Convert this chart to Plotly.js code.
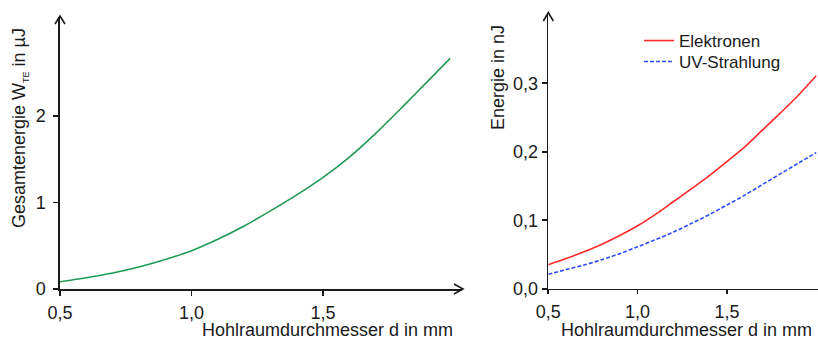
<!DOCTYPE html>
<html>
<head>
<meta charset="utf-8">
<script src="https://cdn.plot.ly/plotly-3.0.1.min.js"></script>
<style>html,body{margin:0;padding:0;background:#fff;}#chart{width:818px;height:340px;}</style>
</head>
<body>
<div id="chart"></div>
<script>
// ---- data ----
var dLeft = [0.5, 0.6, 0.7, 0.8, 0.9, 1.0, 1.1, 1.2, 1.3, 1.4, 1.5, 1.6, 1.7, 1.8, 1.9, 1.983];
var wTE   = [0.083, 0.131, 0.185, 0.254, 0.340, 0.443, 0.575, 0.728, 0.903, 1.088, 1.29, 1.525, 1.80, 2.10, 2.41, 2.667];

var dRight      = [0.5, 0.6, 0.7, 0.8, 0.9, 1.0, 1.1, 1.2, 1.3, 1.4, 1.5, 1.6, 1.7, 1.8, 1.9, 2.0];
var elektronen  = [0.035, 0.044, 0.054, 0.065, 0.0776, 0.0919, 0.1086, 0.127, 0.1457, 0.1647, 0.1857, 0.2072, 0.2319, 0.2568, 0.2826, 0.311];
var uvStrahlung = [0.021, 0.028, 0.0346, 0.0424, 0.0512, 0.0612, 0.0717, 0.0826, 0.0951, 0.108, 0.1222, 0.1366, 0.1523, 0.1679, 0.1833, 0.1988];

var xTickVals = [0.5, 1.0, 1.5];
var xTickText = ['0,5', '1,0', '1,5'];
var yLeftVals = [0, 1, 2];
var yLeftText = ['0', '1', '2'];
var yRightVals = [0, 0.1, 0.2, 0.3];
var yRightText = ['0,0', '0,1', '0,2', '0,3'];

// ---- layout helpers ----
var W = 818, H = 340;
function px(x){ return x / W; }
function py(y){ return 1 - y / H; }
var ink = '#1a1a1a';
var fam = 'Liberation Sans, Arial, sans-serif';
var fnt = {family: fam, size: 18, color: ink};

var traces = [
  {x: dLeft, y: wTE, xaxis: 'x', yaxis: 'y', mode: 'lines', line: {color: '#1f9a55', width: 1.6, shape: 'spline', smoothing: 0.8}, showlegend: false},
  {x: dRight, y: elektronen, xaxis: 'x2', yaxis: 'y2', mode: 'lines', name: 'Elektronen', legend: 'legend',
    line: {color: '#ff2a2a', width: 1.6, shape: 'spline', smoothing: 0.8}},
  {x: dRight, y: uvStrahlung, xaxis: 'x2', yaxis: 'y2', mode: 'lines', name: 'UV-Strahlung', legend: 'legend2',
    line: {color: '#2a4cff', width: 1.6, dash: '4px,2px', shape: 'spline', smoothing: 0.8}}
];

var axBase = {showgrid: false, zeroline: false, showline: true, linecolor: ink, linewidth: 1.6,
  tickcolor: ink, tickwidth: 1.6, tickfont: fnt, fixedrange: true};
var legBase = {xanchor: 'left', yanchor: 'middle', bgcolor: 'rgba(0,0,0,0)',
  font: {family: fam, size: 17, color: ink}, itemwidth: 30};

var layout = {
  width: W, height: H, margin: {l: 0, r: 0, t: 0, b: 0},
  paper_bgcolor: '#fff', plot_bgcolor: 'rgba(0,0,0,0)',
  font: fnt,
  xaxis: Object.assign({}, axBase, {domain: [px(60), px(462)], range: [0.5, 2.028], anchor: 'y',
    tickmode: 'array', tickvals: xTickVals, ticktext: xTickText, ticks: 'outside', ticklen: 5, ticklabelstandoff: 2}),
  yaxis: Object.assign({}, axBase, {domain: [py(289), py(17)], range: [0, 3.145], anchor: 'x',
    tickmode: 'array', tickvals: yLeftVals, ticktext: yLeftText, ticks: 'outside', ticklen: 5, ticklabelstandoff: 4}),
  xaxis3: {overlaying: 'x', anchor: 'y', side: 'bottom', range: [0.5, 2.028], showgrid: false, zeroline: false, showline: false,
    tickmode: 'array', tickvals: xTickVals, ticks: 'inside', ticklen: 5, tickwidth: 1.6, tickcolor: ink, showticklabels: false, fixedrange: true},
  yaxis3: {overlaying: 'y', anchor: 'x', side: 'left', range: [0, 3.145], showgrid: false, zeroline: false, showline: false,
    tickmode: 'array', tickvals: yLeftVals, ticks: 'inside', ticklen: 3, tickwidth: 1.6, tickcolor: ink, showticklabels: false, fixedrange: true},
  xaxis2: Object.assign({}, axBase, {domain: [px(548.3), 1], range: [0.5, 2.01], anchor: 'y2',
    tickmode: 'array', tickvals: xTickVals, ticktext: xTickText, ticks: 'outside', ticklen: 4, ticklabelstandoff: 2}),
  yaxis2: Object.assign({}, axBase, {domain: [py(288.7), py(13.3)], range: [0, 0.4022], anchor: 'x2',
    tickmode: 'array', tickvals: yRightVals, ticktext: yRightText, ticks: 'outside', ticklen: 5, ticklabelstandoff: 0}),
  xaxis4: {overlaying: 'x2', anchor: 'y2', side: 'bottom', range: [0.5, 2.01], showgrid: false, zeroline: false, showline: false,
    tickmode: 'array', tickvals: xTickVals, ticks: 'inside', ticklen: 5, tickwidth: 1.6, tickcolor: ink, showticklabels: false, fixedrange: true},
  legend: Object.assign({}, legBase, {x: px(639), y: py(41)}),
  legend2: Object.assign({}, legBase, {x: px(639), y: py(62)}),
  annotations: [
    {text: 'Gesamtenergie W<sub><span style="font-size:9px">TE</span></sub> in µJ', xref: 'paper', yref: 'paper', x: px(20), y: py(128), textangle: -90,
      showarrow: false, xanchor: 'center', yanchor: 'middle', font: fnt},
    {text: 'Hohlraumdurchmesser d in mm', xref: 'paper', yref: 'paper', x: px(455), y: py(330),
      showarrow: false, xanchor: 'right', yanchor: 'middle', font: fnt},
    {text: 'Energie in nJ', xref: 'paper', yref: 'paper', x: px(498), y: py(78), textangle: -90,
      showarrow: false, xanchor: 'center', yanchor: 'middle', font: fnt},
    {text: 'Hohlraumdurchmesser d in mm', xref: 'paper', yref: 'paper', x: px(814), y: py(330),
      showarrow: false, xanchor: 'right', yanchor: 'middle', font: fnt}
  ],
  shapes: [
    {type: 'path', xref: 'paper', yref: 'paper', path: 'M' + px(55) + ',' + py(24) + ' L' + px(60) + ',' + py(16) + ' L' + px(65) + ',' + py(24),
      line: {color: ink, width: 1.6}},
    {type: 'path', xref: 'paper', yref: 'paper', path: 'M' + px(454) + ',' + py(284) + ' L' + px(463) + ',' + py(289) + ' L' + px(454) + ',' + py(294),
      line: {color: ink, width: 1.6}},
    {type: 'path', xref: 'paper', yref: 'paper', path: 'M' + px(543.3) + ',' + py(21) + ' L' + px(548.3) + ',' + py(12.5) + ' L' + px(553.3) + ',' + py(21),
      line: {color: ink, width: 1.6}}
  ]
};

Plotly.newPlot('chart', traces, layout, {staticPlot: true, displayModeBar: false});
</script>
</body>
</html>
